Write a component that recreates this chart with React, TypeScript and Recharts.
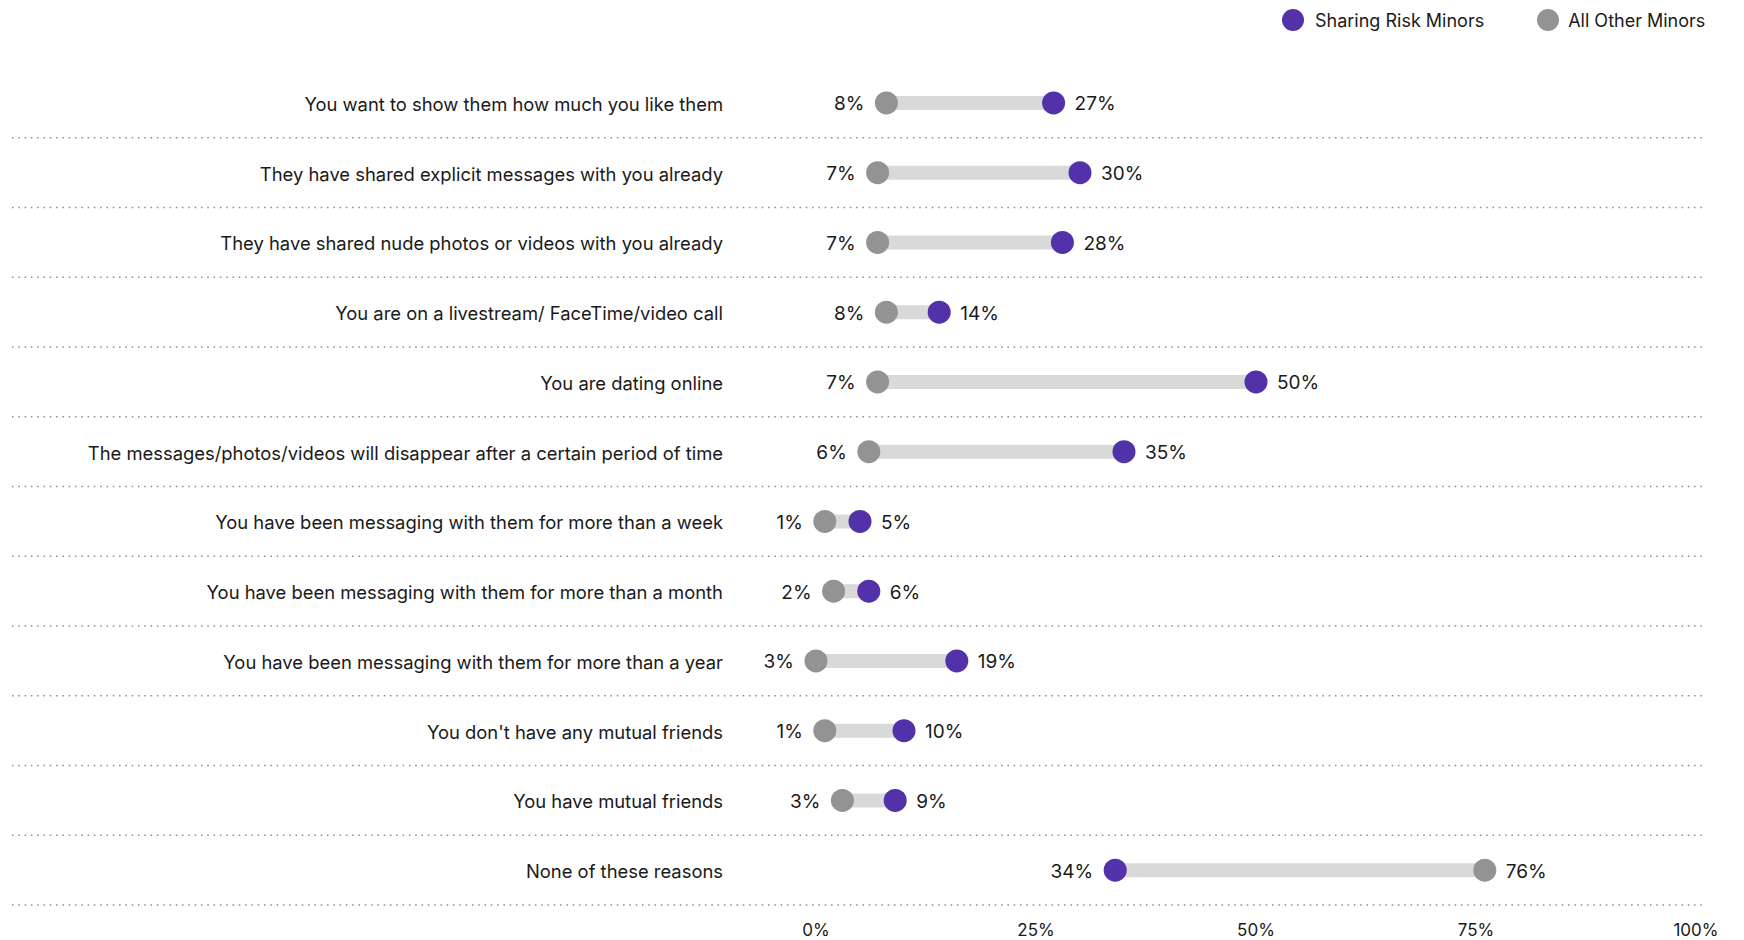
import React from 'react';
import { ComposedChart, Bar, Line, XAxis, YAxis, Legend, LabelList } from 'recharts';

const categories = [
  'You want to show them how much you like them',
  'They have shared explicit messages with you already',
  'They have shared nude photos or videos with you already',
  'You are on a livestream/ FaceTime/video call',
  'You are dating online',
  'The messages/photos/videos will disappear after a certain period of time',
  'You have been messaging with them for more than a week',
  'You have been messaging with them for more than a month',
  'You have been messaging with them for more than a year',
  "You don't have any mutual friends",
  'You have mutual friends',
  'None of these reasons',
];

// dot positions as drawn
const sharingRisk = [27, 30, 28, 14, 50, 35, 5, 6, 16, 10, 9, 34];
const allOther = [8, 7, 7, 8, 7, 6, 1, 2, 0, 1, 3, 76];

// numbers as printed next to the dots
const sharingRiskText = ['27%', '30%', '28%', '14%', '50%', '35%', '5%', '6%', '19%', '10%', '9%', '34%'];
const allOtherText = ['8%', '7%', '7%', '8%', '7%', '6%', '1%', '2%', '3%', '1%', '3%', '76%'];

const xTicks = [0, 25, 50, 75, 100];

const PURPLE = '#5231a9';
const GRAY = '#939393';
const FONT = 'Inter, "Noto Sans", sans-serif';

const data = categories.map((label, i) => ({
  label,
  sharing: sharingRisk[i],
  other: allOther[i],
  range: [Math.min(sharingRisk[i], allOther[i]), Math.max(sharingRisk[i], allOther[i])],
}));

const CategoryTick = (props: any) => {
  const { y, payload } = props;
  const band = 837 / categories.length;
  return (
    <g>
      <text x={723} y={y + 1} textAnchor="end" dominantBaseline="central" fontSize={18.4} fill="#1a1a1a" fontFamily={FONT}>
        {payload.value}
      </text>
      <line x1={12} x2={1705} y1={y + band / 2} y2={y + band / 2} stroke="#8c8c8c" strokeWidth={1.5} strokeDasharray="1.5 4.8" />
    </g>
  );
};

const PercentTick = (props: any) => {
  const { x, y, payload } = props;
  return (
    <text x={x} y={y + 17} textAnchor="middle" dominantBaseline="central" fontSize={17} fill="#1a1a1a" fontFamily={FONT}>
      {payload.value}%
    </text>
  );
};

const makeDot = (color: string) => (props: any) => {
  const { cx, cy, index } = props;
  if (cx == null || cy == null) return <g key={index} />;
  return <circle key={index} cx={cx} cy={cy} r={11.5} fill={color} />;
};

const makeLabel = (own: number[], otherVals: number[], texts: string[]) => (props: any) => {
  const { x, y, index } = props;
  const left = own[index] <= otherVals[index];
  return (
    <text
      x={left ? x - 22 : x + 21}
      y={y + 1}
      textAnchor={left ? 'end' : 'start'}
      dominantBaseline="central"
      fontSize={19}
      fill="#1a1a1a"
      fontFamily={FONT}
    >
      {texts[index]}
    </text>
  );
};

const LegendContent = () => (
  <div style={{ display: 'flex', alignItems: 'center', fontFamily: FONT, fontSize: 18, color: '#1a1a1a' }}>
    <span style={{ width: 22, height: 22, borderRadius: 11, background: PURPLE, display: 'inline-block', marginRight: 11 }} />
    <span style={{ marginRight: 53 }}>Sharing Risk Minors</span>
    <span style={{ width: 22, height: 22, borderRadius: 11, background: GRAY, display: 'inline-block', marginRight: 9 }} />
    <span>All Other Minors</span>
  </div>
);

export default function App() {
  return (
    <div style={{ position: 'absolute', left: 0, top: 0, background: '#fff' }}>
      <ComposedChart
        width={1744}
        height={940}
        data={data}
        layout="vertical"
        margin={{ top: 68, right: 48, bottom: 0, left: 0 }}
      >
        <XAxis
          type="number"
          domain={[0, 100]}
          ticks={xTicks}
          axisLine={false}
          tickLine={false}
          tick={<PercentTick />}
          height={35}
          interval={0}
        />
        <YAxis
          type="category"
          dataKey="label"
          width={816}
          axisLine={false}
          tickLine={false}
          tick={<CategoryTick />}
          interval={0}
        />
        <Legend
          layout="horizontal"
          verticalAlign="middle"
          align="center"
          content={<LegendContent />}
          wrapperStyle={{ top: 9, left: 1282, width: 'auto' }}
        />
        <Bar dataKey="range" fill="#d9d9d9" barSize={14} isAnimationActive={false} legendType="none" />
        <Line dataKey="other" stroke="none" dot={makeDot(GRAY)} activeDot={false} isAnimationActive={false}>
          <LabelList dataKey="other" content={makeLabel(allOther, sharingRisk, allOtherText)} />
        </Line>
        <Line dataKey="sharing" stroke="none" dot={makeDot(PURPLE)} activeDot={false} isAnimationActive={false}>
          <LabelList dataKey="sharing" content={makeLabel(sharingRisk, allOther, sharingRiskText)} />
        </Line>
      </ComposedChart>
    </div>
  );
}
